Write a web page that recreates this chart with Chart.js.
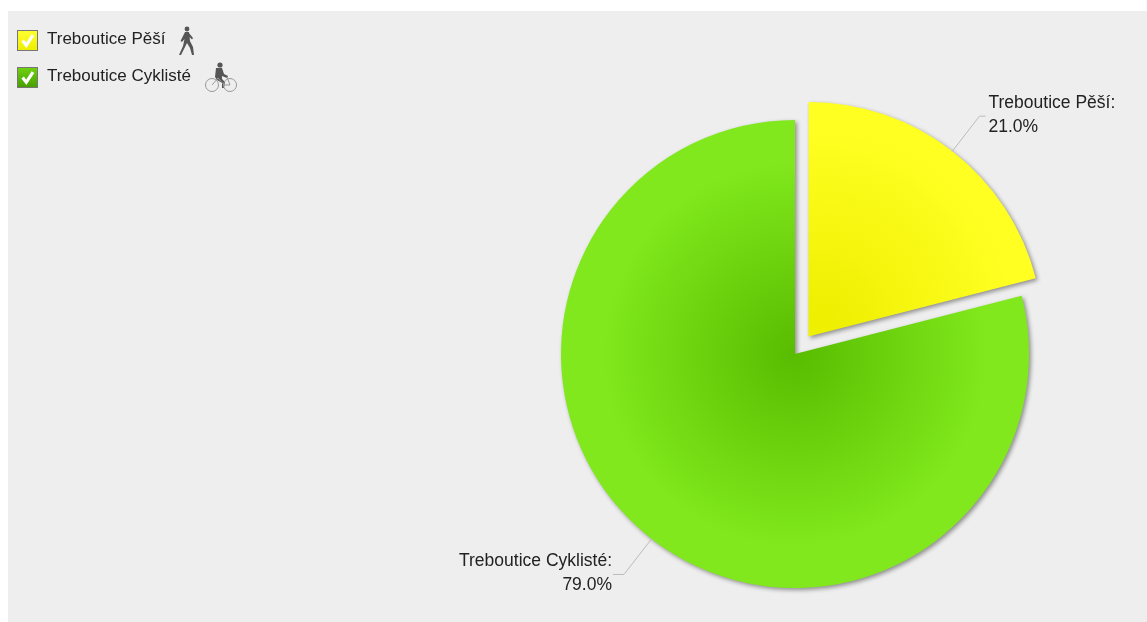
<!DOCTYPE html>
<html>
<head>
<meta charset="utf-8">
<title>Treboutice</title>
<script src="https://cdn.jsdelivr.net/npm/chart.js@4"></script>
<style>
    html, body { margin: 0; padding: 0; background: #fff; overflow: hidden; }
    #panel { position: absolute; left: 8px; top: 11px; width: 1139px; height: 611px; background: #eeeeee; }
    #pie { position: absolute; left: 0; top: 0; }
    .item { position: absolute; left: 9px; height: 21px; font: 17px "Liberation Sans", Arial, sans-serif; color: #222; line-height: 18px; white-space: nowrap; }
    .box { position: absolute; left: 0; top: 0; width: 21px; height: 21px; box-sizing: border-box; border: 1px solid #777; }
    .box svg { position: absolute; left: 1px; top: 1px; }
    .name { position: absolute; left: 30px; top: 0; }
    .icon { position: absolute; }
</style>
</head>
<body>
<div id="panel">
    <canvas id="pie" width="1139" height="611"></canvas>
    <div class="item" style="top:19px">
        <span class="box" style="background:linear-gradient(#ffff30,#eeee00)"><svg width="17" height="17" viewBox="0 0 14 14"><path d="M3 7 L6 11 L11.5 2.5" fill="none" stroke="#fff" stroke-width="2.6"/></svg></span>
        <span class="name">Treboutice Pěší</span>
        <svg class="icon" style="left:161px;top:-4px" width="18" height="30" viewBox="0 0 18 30">
            <circle cx="9" cy="3" r="2.4" fill="#555"/>
            <path d="M7 6 L11 6 L12 15 L15 21 L16 29 L14 29 L12 22 L9 17 L6 23 L3 29 L1 29 L5 20 L6.5 13 L4 16 L2.5 15 Z M11 7 L15 12 L14 13.5 L10.5 10 Z" fill="#555"/>
        </svg>
    </div>
    <div class="item" style="top:56px">
        <span class="box" style="background:linear-gradient(#6fd010,#48a000)"><svg width="17" height="17" viewBox="0 0 14 14"><path d="M3 7 L6 11 L11.5 2.5" fill="none" stroke="#fff" stroke-width="2.6"/></svg></span>
        <span class="name">Treboutice Cyklisté</span>
        <svg class="icon" style="left:187px;top:-6px" width="34" height="32" viewBox="0 0 34 32">
            <circle cx="16" cy="4" r="2.6" fill="#555"/>
            <path d="M12 7 L18 7 L20 13 L24 15 L23 17 L18 15 L18 18 L21 21 L20 27 L18 27 L18 22 L13 19 L11 16 Z" fill="#555"/>
            <circle cx="8" cy="24" r="6.5" fill="none" stroke="#999" stroke-width="1"/>
            <circle cx="26" cy="24" r="6.5" fill="none" stroke="#999" stroke-width="1"/>
            <path d="M8 24 L14 17 L20 24 L26 24 L23 16" fill="none" stroke="#999" stroke-width="1"/>
        </svg>
    </div>
</div>
<script>
const categories = ['Treboutice Pěší', 'Treboutice Cyklisté'];
const shares = [21.0, 79.0];
const innerColors = ['#eeee00', '#58bc00'];
const outerColors = ['#ffff22', '#80e81c'];
const PIE_RADIUS = 234;
const EXPLODE = 22;

// radial fill, the exploded slice gets its own centre
function sliceFill(ctx) {
    const i = ctx.dataIndex;
    const area = ctx.chart.chartArea;
    if (!area) return outerColors[i];
    const total = shares.reduce((a, b) => a + b, 0);
    const before = shares.slice(0, i).reduce((a, b) => a + b, 0);
    const mid = ((before + shares[i] / 2) / total) * Math.PI * 2 - Math.PI / 2;
    const off = i === 0 ? EXPLODE : 0;
    const cx = (area.left + area.right) / 2 + Math.cos(mid) * off;
    const cy = (area.top + area.bottom) / 2 + Math.sin(mid) * off;
    const g = ctx.chart.ctx.createRadialGradient(cx, cy, 0, cx, cy, PIE_RADIUS * 0.82);
    g.addColorStop(0, innerColors[i]);
    g.addColorStop(1, outerColors[i]);
    return g;
}

const sliceShadow = {
    id: 'sliceShadow',
    beforeDatasetDraw(chart) {
        const c = chart.ctx;
        c.save();
        c.shadowColor = 'rgba(0, 0, 0, 0.4)';
        c.shadowBlur = 4;
        c.shadowOffsetX = 2;
        c.shadowOffsetY = 2;
    },
    afterDatasetDraw(chart) {
        chart.ctx.restore();
    }
};

// leader lines and labels beside the pie
const sliceLabels = {
    id: 'sliceLabels',
    afterDatasetsDraw(chart) {
        const c = chart.ctx;
        chart.getDatasetMeta(0).data.forEach((arc, i) => {
            const mid = (arc.startAngle + arc.endAngle) / 2;
            const off = i === 0 ? EXPLODE : 0;
            const ox = arc.x + Math.cos(mid) * (off + arc.outerRadius);
            const oy = arc.y + Math.sin(mid) * (off + arc.outerRadius);
            const ex = ox + Math.cos(mid) * 45;
            const ey = oy + Math.sin(mid) * 45;
            const right = Math.cos(mid) >= 0;
            const tx = ex + (right ? 6 : -11);
            c.save();
            c.strokeStyle = '#bbbbbb';
            c.lineWidth = 1;
            c.beginPath();
            c.moveTo(ox, oy);
            c.lineTo(ex, ey);
            c.lineTo(tx, ey);
            c.stroke();
            c.fillStyle = '#222';
            c.font = '17.5px "Liberation Sans", Arial, sans-serif';
            c.textAlign = right ? 'left' : 'right';
            c.textBaseline = 'middle';
            const lx = tx + (right ? 3 : -1);
            c.fillText(categories[i] + ':', lx, ey - 13);
            c.fillText(shares[i].toFixed(1) + '%', lx, ey + 11);
            c.restore();
        });
    }
};

new Chart(document.getElementById('pie'), {
    type: 'pie',
    data: {
        labels: categories,
        datasets: [{
            data: shares,
            backgroundColor: sliceFill,
            borderWidth: 0,
            // the arc element moves a slice by a quarter of its offset
            offset: [EXPLODE * 4, 0]
        }]
    },
    options: {
        responsive: false,
        animation: false,
        radius: PIE_RADIUS,
        layout: { padding: { left: 435, top: 75 } },
        plugins: {
            legend: { display: false },
            tooltip: { enabled: false }
        }
    },
    plugins: [sliceShadow, sliceLabels]
});
</script>
</body>
</html>
